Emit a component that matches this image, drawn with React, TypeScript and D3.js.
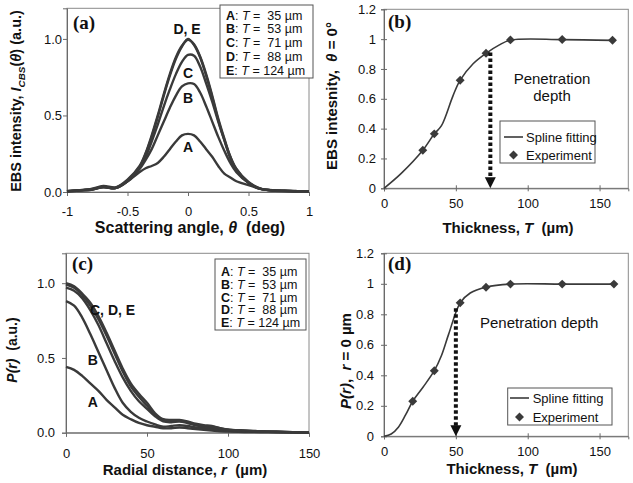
import React, { useEffect, useRef } from "react";
import * as d3 from "d3";

// ---- panel (a): EBS profiles vs scattering angle ----
const thetaGrid = [-1, -0.9, -0.8, -0.7, -0.6, -0.5, -0.4, -0.35, -0.3, -0.25, -0.2, -0.15, -0.1, -0.05, 0, 0.05, 0.1, 0.15, 0.2, 0.25, 0.3, 0.35, 0.4, 0.5, 0.6, 0.7, 0.8, 0.9, 1];
const ebsA = [0.005, 0.01, 0.02, 0.04, 0.03, 0.07, 0.13, 0.155, 0.17, 0.19, 0.23, 0.28, 0.33, 0.37, 0.38, 0.37, 0.33, 0.28, 0.23, 0.17, 0.12, 0.095, 0.07, 0.045, 0.02, 0.01, 0.006, 0.005, 0.005];
const ebsB = [0.005, 0.012, 0.015, 0.035, 0.025, 0.07, 0.15, 0.21, 0.28, 0.37, 0.46, 0.55, 0.63, 0.69, 0.71, 0.705, 0.65, 0.56, 0.46, 0.36, 0.27, 0.19, 0.13, 0.06, 0.02, 0.01, 0.008, 0.006, 0.005];
const ebsC = [0.004, 0.01, 0.015, 0.03, 0.025, 0.07, 0.16, 0.23, 0.33, 0.44, 0.56, 0.67, 0.77, 0.85, 0.895, 0.89, 0.82, 0.71, 0.59, 0.46, 0.34, 0.23, 0.15, 0.06, 0.02, 0.01, 0.008, 0.005, 0.004];
const ebsD = [0.005, 0.01, 0.015, 0.035, 0.025, 0.075, 0.165, 0.25, 0.36, 0.49, 0.63, 0.76, 0.87, 0.95, 1.0, 0.96, 0.88, 0.76, 0.62, 0.47, 0.34, 0.22, 0.14, 0.06, 0.02, 0.012, 0.008, 0.005, 0.005];
const ebsE = [0.006, 0.012, 0.018, 0.03, 0.028, 0.08, 0.17, 0.255, 0.37, 0.5, 0.64, 0.77, 0.88, 0.955, 0.995, 0.965, 0.885, 0.77, 0.63, 0.48, 0.35, 0.23, 0.15, 0.065, 0.022, 0.01, 0.007, 0.006, 0.006];

// ---- panel (c): P(r) vs radial distance ----
const radialGrid = [0, 5, 10, 15, 20, 25, 30, 35, 40, 45, 50, 55, 60, 65, 70, 75, 80, 85, 90, 95, 100, 110, 120, 130, 140, 150];
const prA = [0.44, 0.42, 0.38, 0.33, 0.28, 0.22, 0.17, 0.12, 0.09, 0.065, 0.05, 0.04, 0.03, 0.03, 0.035, 0.03, 0.025, 0.02, 0.015, 0.01, 0.008, 0.005, 0.004, 0.003, 0.002, 0];
const prB = [0.88, 0.85, 0.77, 0.66, 0.54, 0.42, 0.3, 0.2, 0.14, 0.1, 0.075, 0.055, 0.04, 0.045, 0.05, 0.045, 0.035, 0.03, 0.025, 0.018, 0.012, 0.008, 0.005, 0.004, 0.002, 0];
const prC = [0.97, 0.95, 0.9, 0.82, 0.72, 0.6, 0.48, 0.37, 0.28, 0.21, 0.16, 0.11, 0.075, 0.07, 0.075, 0.065, 0.05, 0.04, 0.035, 0.025, 0.02, 0.012, 0.008, 0.005, 0.003, 0];
const prD = [0.99, 0.97, 0.92, 0.85, 0.76, 0.65, 0.53, 0.41, 0.31, 0.24, 0.18, 0.12, 0.085, 0.08, 0.08, 0.07, 0.055, 0.045, 0.04, 0.03, 0.02, 0.014, 0.009, 0.006, 0.003, 0];
const prE = [1.0, 0.98, 0.93, 0.87, 0.78, 0.67, 0.55, 0.43, 0.33, 0.26, 0.2, 0.13, 0.09, 0.085, 0.085, 0.075, 0.06, 0.05, 0.045, 0.03, 0.02, 0.015, 0.01, 0.008, 0.004, 0];

// ---- panel (b): EBS intensity at theta = 0 vs thickness ----
const thickB = [27, 35, 53, 71, 88, 124, 159];
const peakB = [0.255, 0.365, 0.725, 0.905, 0.995, 0.997, 0.992];
const splineBT = [0, 12, 27, 35, 40, 48, 53, 62, 71, 80, 88, 124, 159];
const splineBV = [0, 0.1, 0.255, 0.365, 0.42, 0.62, 0.725, 0.835, 0.905, 0.96, 0.993, 0.997, 0.992];
const depthB = 74;
const depthBTop = 0.91;

// ---- panel (d): P(r) at r = 0 vs thickness ----
const thickD = [20, 35, 53, 71, 88, 124, 160];
const peakD = [0.23, 0.43, 0.875, 0.978, 0.998, 0.998, 0.998];
const splineDT = [0, 5, 10, 15, 20, 27, 35, 40, 45, 53, 60, 71, 88, 124, 160];
const splineDV = [0, 0.015, 0.06, 0.14, 0.23, 0.32, 0.43, 0.53, 0.67, 0.875, 0.94, 0.978, 0.998, 0.998, 0.998];
const depthD = 50;
const depthDTop = 0.84;

// legend entries shared by (a) and (c)
const sampleKeys = ["A", "B", "C", "D", "E"];
const sampleT = ["  35", "  53", "  71", "  88", " 124"];

const FONT = "'Liberation Sans', Arial, sans-serif";
const SERIF = "'Liberation Serif', 'Times New Roman', serif";
const INK = "#3a3a3a";

type Sel = d3.Selection<any, any, any, any>;

function frame(
  svg: Sel,
  x: d3.ScaleLinear<number, number>,
  y: d3.ScaleLinear<number, number>,
  xTicks: number[],
  yTicks: number[],
  xFmt: (d: number) => string,
  yFmt: (d: number) => string,
  cross: boolean,
  xPad: number,
  yPad: number
) {
  const [x0, x1] = x.range();
  const [y0, y1] = y.range();
  svg
    .append("rect")
    .attr("x", x0)
    .attr("y", y1)
    .attr("width", x1 - x0)
    .attr("height", y0 - y1)
    .attr("fill", "#fff")
    .attr("stroke", "#8a8a8a");

  const tick = cross ? 3 : 4;
  const gx = svg
    .append("g")
    .attr("transform", `translate(0,${y0})`)
    .call(d3.axisBottom(x).tickValues(xTicks).tickFormat(xFmt as any).tickSizeOuter(0).tickSize(tick).tickPadding(xPad));
  const gy = svg
    .append("g")
    .attr("transform", `translate(${x0},0)`)
    .call(d3.axisLeft(y).tickValues(yTicks).tickFormat(yFmt as any).tickSizeOuter(0).tickSize(tick).tickPadding(yPad));
  [gx, gy].forEach((g) => {
    g.attr("font-family", FONT).attr("font-size", 13);
    g.select(".domain").attr("stroke", "#6a6a6a");
    g.selectAll(".tick line").attr("stroke", "#6a6a6a");
    g.selectAll(".tick text").attr("fill", "#111");
  });
  if (cross) {
    gx.selectAll(".tick line").attr("y1", -3).attr("y2", 3);
    gy.selectAll(".tick line").attr("x1", -3).attr("x2", 3);
  }
}

function richText(svg: Sel, x: number, y: number, parts: [string, string][], opts: any) {
  const t = svg
    .append("text")
    .attr("font-family", FONT)
    .attr("font-size", opts.size)
    .attr("font-weight", opts.weight || "normal")
    .attr("fill", "#111")
    .attr("text-anchor", opts.anchor || "start")
    .style("white-space", "pre");
  if (opts.rotate) {
    t.attr("transform", `translate(${x},${y}) rotate(-90)`).attr("dominant-baseline", "central");
  } else {
    t.attr("x", x).attr("y", y);
  }
  parts.forEach(([s, kind]) => {
    const sp = t.append("tspan").text(s);
    if (kind.includes("i")) sp.attr("font-style", "italic");
    if (kind.includes("b")) sp.attr("font-weight", "bold");
    if (kind.includes("s")) sp.attr("font-size", opts.size * 0.68).attr("baseline-shift", "sub");
  });
  return t;
}

function App() {
  const ref = useRef<SVGSVGElement>(null);

  useEffect(() => {
    const svg = d3.select(ref.current);
    svg.selectAll("*").remove();

    const line = d3.line<[number, number]>().curve(d3.curveCatmullRom.alpha(0.5));
    const fmt1 = (d: number) => d.toFixed(1);
    const fmtPlain = (d: number) => String(d);
    const diamond = d3.symbol().type(d3.symbolSquare).size(40);

    const arrow = (x: number, yTop: number, yAxis: number) => {
      svg
        .append("line")
        .attr("x1", x)
        .attr("x2", x)
        .attr("y1", yTop)
        .attr("y2", yAxis - 10)
        .attr("stroke", "#111")
        .attr("stroke-width", 4)
        .attr("stroke-dasharray", "3.5,2.5");
      svg
        .append("path")
        .attr("d", `M${x - 5.5},${yAxis - 11}L${x + 5.5},${yAxis - 11}L${x},${yAxis}Z`)
        .attr("fill", "#111");
    };

    // ================= (a) =================
    const xa = d3.scaleLinear().domain([-1, 1]).range([67, 309]);
    const ya = d3.scaleLinear().domain([0, 1.2]).range([192, 8.3]);
    frame(svg, xa, ya, [-1, -0.5, 0, 0.5, 1], [0, 0.5, 1], fmtPlain, fmt1, false, 11, 1);
    [ebsA, ebsB, ebsC, ebsD, ebsE].forEach((vals) => {
      svg
        .append("path")
        .attr("d", line(thetaGrid.map((t, i) => [xa(t), ya(vals[i])])))
        .attr("fill", "none")
        .attr("stroke", INK)
        .attr("stroke-width", 2.4);
    });
    richText(svg, 187, 34, [["D, E", ""]], { size: 14, weight: "bold", anchor: "middle" });
    richText(svg, 188, 78, [["C", ""]], { size: 14, weight: "bold", anchor: "middle" });
    richText(svg, 188, 103, [["B", ""]], { size: 14, weight: "bold", anchor: "middle" });
    richText(svg, 188, 152, [["A", ""]], { size: 14, weight: "bold", anchor: "middle" });
    richText(svg, 73, 29, [["(a)", ""]], { size: 19, weight: "bold" }).attr("font-family", SERIF);

    svg.append("rect").attr("x", 220).attr("y", 5).attr("width", 93).attr("height", 73).attr("fill", "#fff").attr("stroke", "#555");
    sampleKeys.forEach((k, i) => {
      richText(svg, 226, 19.5 + i * 13.9, [[k, "b"], [": ", ""], ["T", "i"], [" =" + sampleT[i] + " µm", ""]], { size: 12.5 });
    });

    richText(svg, 190, 233, [["Scattering angle, ", ""], ["θ", "i"], ["  (deg)", ""]], { size: 16, weight: "bold", anchor: "middle" });
    richText(svg, 16, 101, [["EBS intensity, ", ""], ["I", "i"], ["CBS", "is"], ["(", ""], ["θ", "i"], [") (a.u.)", ""]], { size: 14.5, weight: "bold", anchor: "middle", rotate: true });

    // ================= (b) =================
    const xb = d3.scaleLinear().domain([0, 170]).range([384, 628.3]);
    const yb = d3.scaleLinear().domain([0, 1.2]).range([188.3, 9.3]);
    frame(svg, xb, yb, [0, 50, 100, 150], [0, 0.2, 0.4, 0.6, 0.8, 1, 1.2], fmtPlain, fmtPlain, true, 7.5, 5);
    svg
      .append("path")
      .attr("d", line(splineBT.map((t, i) => [xb(t), yb(splineBV[i])])))
      .attr("fill", "none")
      .attr("stroke", INK)
      .attr("stroke-width", 1.6);
    svg
      .selectAll(".mb")
      .data(thickB)
      .join("path")
      .attr("d", diamond as any)
      .attr("transform", (d, i) => `translate(${xb(d)},${yb(peakB[i])}) rotate(45)`)
      .attr("fill", INK);
    arrow(xb(depthB), yb(depthBTop), yb(0));
    richText(svg, 552, 84, [["Penetration", ""]], { size: 15, anchor: "middle" });
    richText(svg, 552, 101, [["depth", ""]], { size: 15, anchor: "middle" });
    richText(svg, 388, 28, [["(b)", ""]], { size: 19, weight: "bold" }).attr("font-family", SERIF);

    svg.append("rect").attr("x", 500).attr("y", 121).attr("width", 95).attr("height", 42).attr("fill", "#fff").attr("stroke", "#555");
    svg.append("line").attr("x1", 504).attr("x2", 523).attr("y1", 137).attr("y2", 137).attr("stroke", INK).attr("stroke-width", 1.6);
    svg.append("path").attr("d", diamond as any).attr("transform", "translate(513.5,155) rotate(45)").attr("fill", INK);
    richText(svg, 526, 141.5, [["Spline fitting", ""]], { size: 13 });
    richText(svg, 526, 159.5, [["Experiment", ""]], { size: 13 });

    richText(svg, 508, 233, [["Thickness, ", ""], ["T", "i"], ["  (µm)", ""]], { size: 15, weight: "bold", anchor: "middle" });
    richText(svg, 331, 96, [["EBS intesnity,  ", ""], ["θ", "i"], [" = 0°", ""]], { size: 15, weight: "bold", anchor: "middle", rotate: true });

    // ================= (c) =================
    const xc = d3.scaleLinear().domain([0, 150]).range([66, 309]);
    const yc = d3.scaleLinear().domain([0, 1.2]).range([432.7, 253.3]);
    frame(svg, xc, yc, [0, 50, 100, 150], [0, 0.5, 1], fmtPlain, fmt1, false, 12, 7);
    [prA, prB, prC, prD, prE].forEach((vals) => {
      svg
        .append("path")
        .attr("d", line(radialGrid.map((r, i) => [xc(r), yc(vals[i])])))
        .attr("fill", "none")
        .attr("stroke", INK)
        .attr("stroke-width", 2.4);
    });
    richText(svg, 90, 315, [["C, D, E", ""]], { size: 14, weight: "bold" });
    richText(svg, 92.7, 364.5, [["B", ""]], { size: 14, weight: "bold", anchor: "middle" });
    richText(svg, 92.7, 407, [["A", ""]], { size: 14, weight: "bold", anchor: "middle" });
    richText(svg, 72, 270, [["(c)", ""]], { size: 19, weight: "bold" }).attr("font-family", SERIF);

    svg.append("rect").attr("x", 215).attr("y", 259).attr("width", 91).attr("height", 71).attr("fill", "#fff").attr("stroke", "#555");
    sampleKeys.forEach((k, i) => {
      richText(svg, 221, 276 + i * 12.8, [[k, "b"], [": ", ""], ["T", "i"], [" =" + sampleT[i] + " µm", ""]], { size: 12.5 });
    });

    richText(svg, 185, 475, [["Radial distance, ", ""], ["r", "i"], ["  (µm)", ""]], { size: 15, weight: "bold", anchor: "middle" });
    richText(svg, 12, 350, [["P(r)", "i"], ["  (a.u.)", ""]], { size: 14, weight: "bold", anchor: "middle", rotate: true });

    // ================= (d) =================
    const xd = d3.scaleLinear().domain([0, 170]).range([384, 628.3]);
    const yd = d3.scaleLinear().domain([0, 1.2]).range([436.3, 253.3]);
    frame(svg, xd, yd, [0, 50, 100, 150], [0, 0.2, 0.4, 0.6, 0.8, 1, 1.2], fmtPlain, fmtPlain, true, 7.5, 7);
    svg
      .append("path")
      .attr("d", line(splineDT.map((t, i) => [xd(t), yd(splineDV[i])])))
      .attr("fill", "none")
      .attr("stroke", INK)
      .attr("stroke-width", 1.6);
    svg
      .selectAll(".md")
      .data(thickD)
      .join("path")
      .attr("d", diamond as any)
      .attr("transform", (d, i) => `translate(${xd(d)},${yd(peakD[i])}) rotate(45)`)
      .attr("fill", INK);
    arrow(xd(depthD), yd(depthDTop), yd(0));
    richText(svg, 480, 328, [["Penetration depth", ""]], { size: 15 });
    richText(svg, 388, 270, [["(d)", ""]], { size: 19, weight: "bold" }).attr("font-family", SERIF);

    svg.append("rect").attr("x", 507.7).attr("y", 388).attr("width", 104.3).attr("height", 37).attr("fill", "#fff").attr("stroke", "#555");
    svg.append("line").attr("x1", 510).attr("x2", 529).attr("y1", 398).attr("y2", 398).attr("stroke", INK).attr("stroke-width", 1.6);
    svg.append("path").attr("d", diamond as any).attr("transform", "translate(519.5,417) rotate(45)").attr("fill", INK);
    richText(svg, 532.7, 402.5, [["Spline fitting", ""]], { size: 13 });
    richText(svg, 532.7, 421.5, [["Experiment", ""]], { size: 13 });

    richText(svg, 512, 474, [["Thickness, ", ""], ["T", "i"], ["  (µm)", ""]], { size: 15, weight: "bold", anchor: "middle" });
    richText(svg, 345, 361, [["P(r)", "i"], [",  ", ""], ["r", "i"], [" = 0 µm", ""]], { size: 15, weight: "bold", anchor: "middle", rotate: true });
  }, []);

  return (
    <svg
      ref={ref}
      width={633}
      height={483}
      style={{ position: "absolute", left: 0, top: 0, background: "#fff" }}
    />
  );
}

export default App;
